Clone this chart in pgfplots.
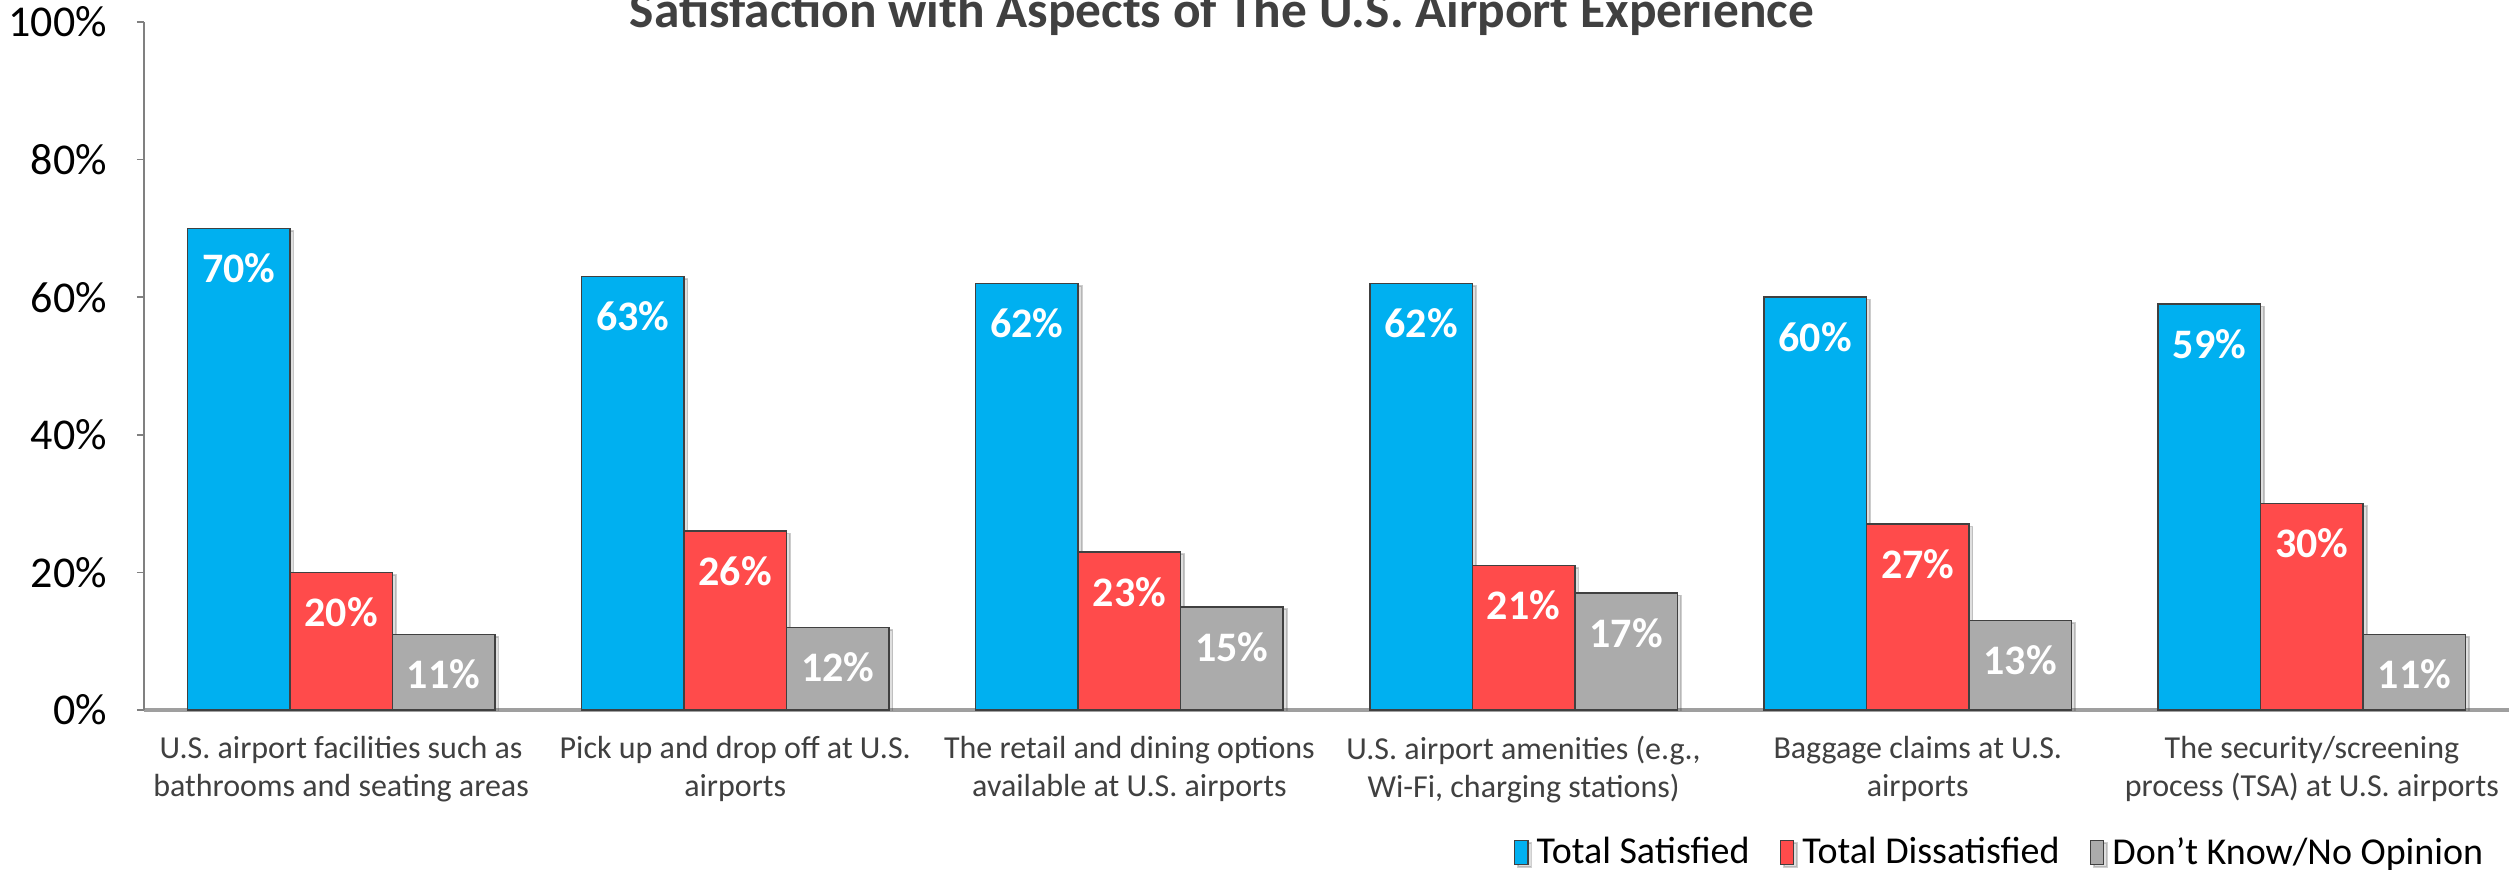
\documentclass[border=0pt]{standalone}
\usepackage{pgfplots}
\pgfplotsset{compat=1.18}
\usepackage{fontspec}
\setmainfont{Carlito}
\usetikzlibrary{shadows}
\definecolor{cblue}{HTML}{00B0F0}
\definecolor{cred}{HTML}{FF4B4B}
\definecolor{cgray}{HTML}{ABABAB}
\definecolor{edge}{HTML}{404040}
\definecolor{txt}{HTML}{404040}
\pgfplotsset{mylegend/.style={legend image code/.code={\draw[##1, draw=edge, line width=0.4pt] (0pt,-2.7pt) rectangle (3.3pt,3.3pt);}}}
\begin{document}
\begin{tikzpicture}
\begin{axis}[
 width=591.25pt, height=172pt, scale only axis,
 xmin=-0.5, xmax=5.5, ymin=0, ymax=100,
 axis lines*=left,
 x axis line style={draw=gray!75, line width=0.8pt, -},
 y axis line style={draw=gray, line width=0.4pt, -},
 xtick={0,...,5},
 xticklabels={{U.S. airport facilities such as\\bathrooms and seating areas},{Pick up and drop off at U.S.\\airports},{The retail and dining options\\available at U.S. airports},{U.S. airport amenities (e.g.,\\Wi-Fi, charging stations)},{Baggage claims at U.S.\\airports},{The security/screening\\process (TSA) at U.S. airports}},
 xtick style={draw=none},
 ytick={0,20,40,60,80,100},
 yticklabels={0\%,20\%,40\%,60\%,80\%,100\%},
 ytick style={draw=gray, line width=0.4pt},
 tick align=outside, major tick length=1.75pt,
 yticklabel style={font=\fontsize{11}{13}\selectfont, xshift=-4pt},
 xticklabel style={font=\fontsize{8}{9.6}\selectfont, align=center, text=txt, yshift=-1.2pt},
 ybar, bar width=0.26,
 nodes near coords={\pgfmathprintnumber{\pgfplotspointmeta}\%},
 every node near coord/.append style={font=\fontsize{10.5}{12}\selectfont\bfseries, text=white, anchor=center, yshift=-10pt},
 /pgf/number format/assume math mode=true,
 legend columns=3,
 legend style={at={(0.9928,-0.209)}, anchor=east, draw=none, fill=none, font=\fontsize{9.5}{11}\selectfont,
   /tikz/every even column/.append style={column sep=5.5pt}, inner sep=0pt},
 legend cell align=left,
]
\addplot[mylegend, fill=cblue, draw=edge, line width=0.4pt, bar shift=-0.26, drop shadow={shadow xshift=0.9pt, shadow yshift=-0.6pt, opacity=0.25}] coordinates {(0,70) (1,63) (2,62) (3,62) (4,60) (5,59)};
\addplot[mylegend, fill=cred, draw=edge, line width=0.4pt, bar shift=0, drop shadow={shadow xshift=0.9pt, shadow yshift=-0.6pt, opacity=0.25}] coordinates {(0,20) (1,26) (2,23) (3,21) (4,27) (5,30)};
\addplot[mylegend, fill=cgray, draw=edge, line width=0.4pt, bar shift=0.26, drop shadow={shadow xshift=0.9pt, shadow yshift=-0.6pt, opacity=0.25}] coordinates {(0,11) (1,12) (2,15) (3,17) (4,13) (5,11)};
\legend{Total Satisfied, Total Dissatisfied, Don\char"27 t Know/No Opinion}
\end{axis}
\node[anchor=base, font=\fontsize{12.85}{15}\selectfont\bfseries, text=txt] at (269.5pt,170.75pt) {Satisfaction with Aspects of The U.S. Airport Experience};
\pgfresetboundingbox
\path[use as bounding box] (-36pt,-39.75pt) rectangle (592.5pt,177.5pt);
\end{tikzpicture}
\end{document}
